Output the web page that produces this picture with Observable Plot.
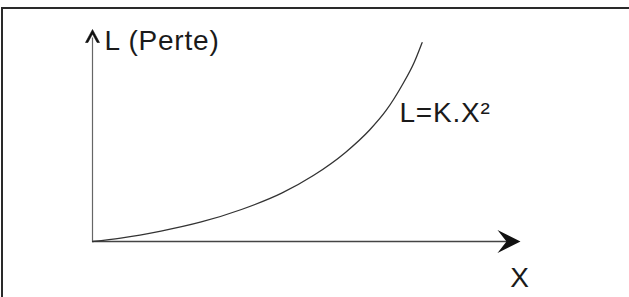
<!DOCTYPE html>
<html>
<head>
<meta charset="utf-8">
<script src="https://cdn.jsdelivr.net/npm/d3@7"></script>
<script src="https://cdn.jsdelivr.net/npm/@observablehq/plot@0.6"></script>
<style>
  html, body { margin: 0; padding: 0; background: #fff; }
  #wrap { position: relative; width: 629px; height: 297px; overflow: hidden; }
  #frame { position: absolute; left: 1px; top: 7px; width: 800px; height: 500px;
           border-top: 2.5px solid #2a2a2a; border-left: 2.5px solid #2a2a2a; }
  #chart { position: absolute; left: 0; top: 0; }
  svg text { font-family: "Liberation Sans", Arial, sans-serif; }
  svg g.lbl text { letter-spacing: 0.8px; }
</style>
</head>
<body>
<div id="wrap"><div id="frame"></div><div id="chart"></div></div>
<script>
// Curve L = K.X^2 (arbitrary units)
const xValues = [0, 0.66, 1.60, 2.54, 3.48, 4.42, 5.16, 5.91, 6.48, 6.86, 7.23, 7.52, 7.70];
const lValues = [0, 0.16, 0.49, 0.92, 1.51, 2.28, 3.11, 4.20, 5.27, 6.18, 7.36, 8.47, 9.38];

// Axis extents
const xMax = 10;
const yMax = 10;

// Labels
const labelTexts = ["L (Perte)", "L=K.X\u00B2", "X"];
const labelX = [0.28, 7.17, 9.98];
const labelY = [9.45, 6.08, -1.7];
const labelAnchor = ["start", "start", "middle"];

const curve = xValues.map((x, i) => ({x, y: lValues[i]}));
const labels = labelTexts.map((t, i) => ({text: t, x: labelX[i], y: labelY[i], anchor: labelAnchor[i]}));

// custom arrowhead symbols (pointing right / up), tip at origin
const arrowRight = {draw(ctx) { ctx.moveTo(0, 0); ctx.lineTo(-23, -11.5); ctx.lineTo(-14, 0); ctx.lineTo(-23, 11.5); ctx.closePath(); }};
const arrowUp = {draw(ctx) { ctx.moveTo(0, 0); ctx.lineTo(-7, 13); ctx.lineTo(-4.6, 13); ctx.lineTo(0, 4.5); ctx.lineTo(4.6, 13); ctx.lineTo(7, 13); ctx.closePath(); }};

const chart = Plot.plot({
  width: 629,
  height: 297,
  marginLeft: 92,
  marginRight: 109,
  marginTop: 29,
  marginBottom: 56,
  x: {domain: [0, xMax], axis: null},
  y: {domain: [0, yMax], axis: null},
  style: {background: "transparent", overflow: "visible"},
  marks: [
    Plot.ruleY([0], {x1: 0, x2: xMax - 0.3, stroke: "#444", strokeWidth: 1.3}),
    Plot.ruleX([0], {y1: 0, y2: yMax - 0.4, stroke: "#666", strokeWidth: 1.2}),
    Plot.dot([{x: xMax, y: 0}], {x: "x", y: "y", symbol: arrowRight, fill: "#111", stroke: "none", r: 1}),
    Plot.dot([{x: 0, y: yMax}], {x: "x", y: "y", symbol: arrowUp, fill: "#111", stroke: "#111", strokeWidth: 0.6, r: 1}),
    Plot.line(curve, {x: "x", y: "y", curve: "monotone-x", stroke: "#333", strokeWidth: 1.3}),
    Plot.text(labels.filter(d => d.anchor === "start"), {x: "x", y: "y", text: "text", textAnchor: "start", lineAnchor: "middle", fontSize: 28, fill: "#1a1a1a", className: "lbl"}),
    Plot.text(labels.filter(d => d.anchor === "middle"), {x: "x", y: "y", text: "text", textAnchor: "middle", lineAnchor: "middle", fontSize: 28, fill: "#1a1a1a"})
  ]
});
document.getElementById("chart").appendChild(chart);
</script>
</body>
</html>
